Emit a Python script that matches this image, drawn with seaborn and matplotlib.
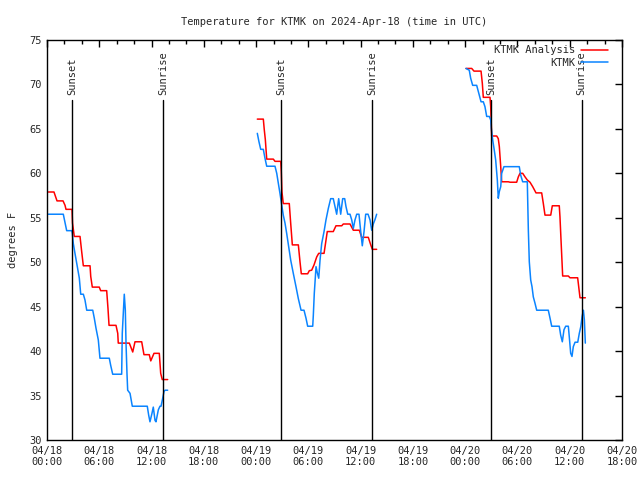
"""
Temperature for KTMK: analysis vs observations, with sunset/sunrise markers.
"""

import numpy as np
import pandas as pd
import matplotlib
matplotlib.use("Agg")
import matplotlib.pyplot as plt
from matplotlib.ticker import MultipleLocator
import seaborn as sns

# hours since 2024-04-18 00:00 UTC, three daily segments each
red_h = [
    [0.15, 0.80, 1.15, 1.84, 2.07, 2.18, 2.87, 2.93, 3.13, 3.79, 3.98, 4.17, 4.94, 5.02, 5.20,
     6.00, 6.16, 6.85, 7.00, 7.12, 7.92, 8.12, 8.18, 9.45, 9.84, 10.10, 10.87, 11.13, 11.74,
     11.91, 12.28, 12.89, 13.05, 13.23, 13.85],
    [24.14, 24.83, 24.94, 25.06, 25.22, 25.98, 26.17, 26.83, 26.89, 26.97, 27.12, 27.81, 27.97,
     28.16, 28.85, 29.04, 29.19, 29.92, 30.11, 30.38, 30.65, 30.96, 31.19, 31.80, 32.17, 32.86,
     33.17, 33.83, 34.01, 34.78, 35.16, 35.85, 36.12, 36.88, 37.16, 37.34, 37.84],
    [48.09, 48.75, 49.01, 49.82, 49.97, 50.08, 50.85, 50.93, 51.04, 51.62, 51.80, 51.92, 52.08,
     52.19, 52.95, 53.15, 53.91, 54.10, 54.29, 54.60, 54.87, 55.13, 55.44, 55.75, 56.13, 56.78,
     56.97, 57.16, 57.82, 58.00, 58.80, 58.88, 59.00, 59.19, 59.84, 60.03, 60.91, 61.03, 61.18,
     61.79],
]
red_t = [
    [57.9, 57.9, 56.9, 56.9, 56.4, 55.95, 55.95, 54.4, 52.9, 52.9, 51.2, 49.6, 49.6, 48.4, 47.2,
     47.2, 46.8, 46.8, 44.8, 42.9, 42.9, 42.0, 40.9, 40.9, 39.9, 41.05, 41.05, 39.6, 39.6,
     38.9, 39.75, 39.75, 37.5, 36.8, 36.8],
    [66.1, 66.1, 64.9, 63.8, 61.6, 61.6, 61.35, 61.35, 60.2, 57.9, 56.6, 56.6, 54.4,
     51.95, 51.95, 50.05, 48.7, 48.7, 49.05, 49.1, 49.7, 50.6, 51.0, 51.0, 53.45, 53.45,
     54.1, 54.1, 54.3, 54.3, 53.6, 53.6, 52.8, 52.8, 51.95, 51.45, 51.45],
    [71.8, 71.8, 71.5, 71.5, 70.1, 68.55, 68.55, 67.5, 64.2, 64.2, 63.9, 63.0, 60.75,
     59.05, 59.05, 59.0, 59.0, 59.6, 60.0, 60.0, 59.6, 59.25, 59.0, 58.5, 57.8, 57.8,
     56.6, 55.3, 55.3, 56.35, 56.35, 55.1, 52.5, 48.45, 48.45, 48.25, 48.25, 47.25, 46.0,
     46.0],
]

blue_h = [
    [0.15, 1.87, 2.07, 2.26, 2.84, 2.90, 3.02, 3.21, 3.48, 3.71, 3.87, 4.17, 4.36, 4.56, 5.25,
     5.43, 5.62, 5.89, 6.08, 7.15, 7.31, 7.54, 8.57, 8.64, 8.87, 8.99, 9.07, 9.18, 9.26, 9.53,
     9.79, 11.51, 11.67, 11.82, 12.05, 12.20, 12.40, 12.51, 12.78, 12.97, 13.09, 13.28, 13.43,
     13.54, 13.85],
    [24.14, 24.33, 24.53, 24.83, 25.02, 25.22, 26.17, 26.37, 26.55, 26.74, 26.94, 27.12, 27.32,
     27.51, 27.74, 27.97, 28.27, 28.58, 28.85, 29.16, 29.50, 29.73, 29.92, 30.50, 30.57, 30.68,
     30.88, 31.03, 31.19, 31.34, 31.53, 31.80, 32.02, 32.29, 32.56, 32.86, 33.06, 33.25, 33.48,
     33.71, 33.94, 34.17, 34.32, 34.52, 34.78, 34.98, 35.16, 35.35, 35.55, 35.81, 36.01, 36.19,
     36.39, 36.58, 36.85, 37.08, 37.27, 37.45, 37.65, 37.84],
    [48.09, 48.47, 48.63, 48.86, 49.32, 49.51, 49.82, 50.08, 50.27, 50.47, 50.77, 50.93, 51.00,
     51.16, 51.34, 51.50, 51.69, 51.80, 51.92, 52.08, 52.19, 52.45, 54.21, 54.37, 54.60, 55.13,
     55.25, 55.36, 55.52, 55.67, 55.82, 56.01, 56.21, 57.54, 57.74, 57.93, 58.80, 58.96, 59.15,
     59.34, 59.54, 59.84, 59.95, 60.11, 60.26, 60.41, 60.61, 60.92, 61.10, 61.27, 61.42, 61.57,
     61.68, 61.79],
]
blue_t = [
    [55.4, 55.4, 54.45, 53.55, 53.55, 53.3, 52.1, 51.0, 49.5, 48.2, 46.4, 46.4, 45.75, 44.6, 44.6,
     43.7, 42.6, 41.25, 39.2, 39.2, 38.4, 37.4, 37.4, 42.0, 46.4, 44.6, 40.9, 37.5, 35.6, 35.25,
     33.8, 33.8, 32.8, 32.05, 33.0, 33.7, 32.2, 32.05, 33.4, 33.8, 33.8, 34.7, 35.45,
     35.6, 35.6],
    [64.5, 63.55, 62.7, 62.7, 61.7, 60.8, 60.8, 60.0, 58.9, 57.75, 56.45, 55.3, 54.4,
     53.25, 51.75, 50.25, 48.75, 47.25, 45.9, 44.6, 44.6, 43.7, 42.8, 42.8, 44.05, 46.5,
     49.5, 48.8, 48.2, 50.25, 52.1, 53.45, 54.75, 56.05, 57.15, 57.15, 56.25, 55.4, 57.15,
     55.4, 57.15, 57.15, 56.25, 55.4, 55.4, 54.75, 53.8, 54.75, 55.4, 55.4, 53.45, 51.85,
     53.45, 55.4, 55.4, 54.75, 53.6, 54.3, 54.8, 55.4],
    [71.8, 71.6, 70.7, 69.9, 69.9, 69.2, 68.05, 68.05, 67.5, 66.4, 66.4, 66.0, 65.05,
     63.75, 62.6, 61.5, 59.25, 57.2, 57.95, 58.5, 60.0, 60.75, 60.75, 59.8, 59.05, 59.05,
     53.6, 50.05, 48.0, 47.25, 46.1, 45.4, 44.6, 44.6, 43.7, 42.8, 42.8, 41.8, 41.05,
     42.4, 42.8, 42.8, 41.6, 39.75, 39.4, 40.5, 41.0, 41.0, 42.0, 42.75, 43.9, 44.6,
     43.5, 40.9],
]

sunset_h = [2.92, 26.90, 50.95]
sunrise_h = [13.36, 37.34, 61.37]

xtick_h = [0, 6, 12, 18, 24, 30, 36, 42, 48, 54, 60, 66]
xtick_labels = ["04/18\n00:00", "04/18\n06:00", "04/18\n12:00", "04/18\n18:00",
                "04/19\n00:00", "04/19\n06:00", "04/19\n12:00", "04/19\n18:00",
                "04/20\n00:00", "04/20\n06:00", "04/20\n12:00", "04/20\n18:00"]

sns.set_style("white")
plt.rcParams['font.family'] = ['DejaVu Sans Mono']
plt.rcParams['font.size'] = 7.5

fig = plt.figure(figsize=(6.4, 4.8), dpi=100)
ax = fig.add_axes([47 / 640, 40 / 480, 575 / 640, 400 / 480])

# one DataFrame per series, segments kept apart with a unit column
def build(hours, temps):
    rows = []
    for seg, (hh, tt) in enumerate(zip(hours, temps)):
        for h, t in zip(hh, tt):
            rows.append({'hour': h, 'temp': t, 'seg': seg})
    return pd.DataFrame(rows)

red_df = build(red_h, red_t)
blue_df = build(blue_h, blue_t)

sns.lineplot(data=red_df, x='hour', y='temp', units='seg', estimator=None, sort=False,
             color='#ff0000', linewidth=1.1, ax=ax)
sns.lineplot(data=blue_df, x='hour', y='temp', units='seg', estimator=None, sort=False,
             color='#0a84ff', linewidth=1.1, ax=ax)

# sunset / sunrise markers
for h in sunset_h:
    ax.plot([h, h], [30, 68.25], color='black', linewidth=1)
    ax.text(h, 68.8, "Sunset", rotation=90, ha='center', va='bottom', fontsize=7.5)
for h in sunrise_h:
    ax.plot([h, h], [30, 68.25], color='black', linewidth=1)
    ax.text(h, 68.8, "Sunrise", rotation=90, ha='center', va='bottom', fontsize=7.5)

ax.set_xlim(0, 66)
ax.set_ylim(30, 75)
ax.set_xticks(xtick_h)
ax.set_xticklabels(xtick_labels)
ax.xaxis.set_minor_locator(MultipleLocator(2))
ax.yaxis.set_major_locator(MultipleLocator(5))
ax.tick_params(which='both', direction='in', top=True, right=True, color='black',
               labelsize=7.5, pad=4)
ax.tick_params(which='major', length=5, width=1)
ax.tick_params(which='minor', length=3, width=1)
for sp in ax.spines.values():
    sp.set_color('black')
    sp.set_linewidth(1)

ax.set_xlabel("")
ax.set_ylabel("degrees F", fontsize=7.5, labelpad=8)
ax.set_title("Temperature for KTMK on 2024-Apr-18 (time in UTC)", fontsize=7.5, pad=11)

handles = [plt.Line2D([], [], color='#ff0000', linewidth=1.1),
           plt.Line2D([], [], color='#0a84ff', linewidth=1.1)]
ax.legend(handles, ["KTMK Analysis", "KTMK"], loc='upper right', frameon=False,
          markerfirst=False, handlelength=2.6, handletextpad=0.5, labelspacing=0.25,
          borderaxespad=0.1, fontsize=7.5, bbox_to_anchor=(1 - 9 / 575, 1.0))

plt.savefig("out.png", dpi=100)
